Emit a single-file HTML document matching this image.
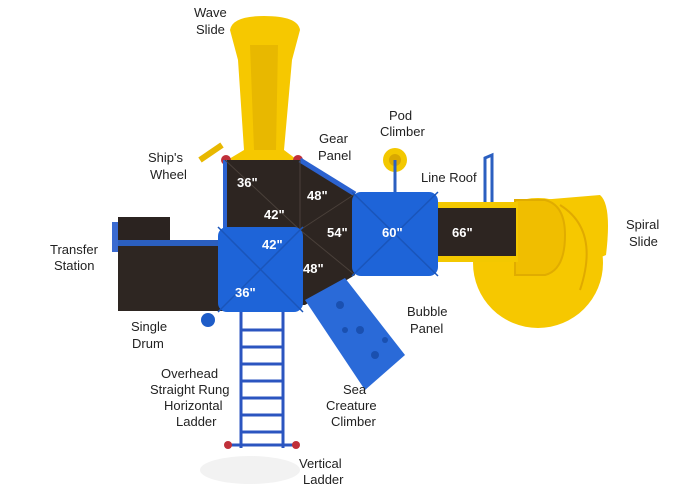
<!DOCTYPE html>
<html><head><style>
body{margin:0;background:#fff;}
svg{display:block}
text{font-family:"Liberation Sans",sans-serif;}
.l{font-size:13px;fill:#222}
.m{font-size:13px;fill:#fff;font-weight:bold}
</style></head><body>
<svg width="700" height="495" viewBox="0 0 700 495">
<ellipse cx="250" cy="470" rx="50" ry="14" fill="#f2f2f2"/>
<!-- wave slide -->
<path d="M230 30 Q232 16 264 16 Q298 16 300 30 L292 60 L284 150 L300 162 L224 162 L244 150 L238 60 Z" fill="#f6c800"/>
<path d="M250 45 L278 45 L276 150 L254 150 Z" fill="#e8b800"/>
<!-- ship wheel -->
<line x1="200" y1="160" x2="222" y2="145" stroke="#e8b800" stroke-width="6"/>
<circle cx="226" cy="160" r="5" fill="#c0303a"/><circle cx="298" cy="160" r="5" fill="#c0303a"/>
<!-- transfer station -->
<rect x="118" y="217" width="52" height="30" fill="#2b2320"/>
<rect x="118" y="245" width="108" height="66" fill="#2e2622"/>
<rect x="118" y="240" width="108" height="6" fill="#2b5fc0"/>
<rect x="112" y="222" width="6" height="30" fill="#3a6ad0"/>
<!-- central deck -->
<path d="M225 160 L300 160 L355 194 L355 275 L305 305 L225 305 Z" fill="#2d2521"/>
<path d="M300 160 L355 194" stroke="#2b62d0" stroke-width="5"/>
<path d="M225 160 L225 228" stroke="#2b62d0" stroke-width="4"/>
<path d="M225 160 L300 230 M300 160 L300 230 L355 194 M300 230 L355 275" stroke="#4a403a" stroke-width="1" fill="none"/>
<!-- pod climber -->
<circle cx="395" cy="160" r="12" fill="#f3c800"/><circle cx="395" cy="160" r="6" fill="#d9a800"/>
<line x1="395" y1="160" x2="395" y2="194" stroke="#2b5fc0" stroke-width="3"/>
<!-- line roof post -->
<path d="M485 205 L485 158 L492 155 L492 205" stroke="#2b5fc0" stroke-width="3" fill="none"/>
<!-- spiral slide -->
<path d="M540 200 L600 195 Q612 205 606 255 L590 262 Z" fill="#f6c800"/>
<circle cx="538" cy="263" r="65" fill="#f6c800"/>
<path d="M560 205 Q600 230 580 290" stroke="#e0aa00" stroke-width="2" fill="none"/>
<path d="M515 200 L545 200 Q565 205 565 235 Q565 270 545 275 L515 275 Z" fill="#f0be00" stroke="#e0ac00" stroke-width="2"/>
<!-- bridge -->
<rect x="436" y="202" width="82" height="60" fill="#f3c800"/>
<rect x="436" y="208" width="80" height="48" fill="#2d2521"/>
<!-- center roof -->
<rect x="352" y="192" width="86" height="84" rx="9" fill="#1e64d8"/>
<path d="M352 192 L438 276 M438 192 L352 276" stroke="#1a55ba" stroke-width="1.5"/>
<!-- sea creature climber -->
<path d="M305 300 L345 278 L405 355 L365 390 Z" fill="#2a6ad8"/>
<circle cx="340" cy="305" r="4" fill="#1a50b0"/><circle cx="360" cy="330" r="4" fill="#1a50b0"/><circle cx="375" cy="355" r="4" fill="#1a50b0"/><circle cx="345" cy="330" r="3" fill="#1a50b0"/><circle cx="385" cy="340" r="3" fill="#1a50b0"/>
<!-- ladder -->
<g stroke="#2b55c0" stroke-width="3">
<line x1="241" y1="312" x2="241" y2="448"/><line x1="283" y1="312" x2="283" y2="448"/>
<line x1="241" y1="330" x2="283" y2="330"/><line x1="241" y1="347" x2="283" y2="347"/><line x1="241" y1="364" x2="283" y2="364"/><line x1="241" y1="381" x2="283" y2="381"/><line x1="241" y1="398" x2="283" y2="398"/><line x1="241" y1="415" x2="283" y2="415"/><line x1="241" y1="432" x2="283" y2="432"/>
<line x1="228" y1="445" x2="296" y2="445"/>
</g>
<circle cx="228" cy="445" r="4" fill="#c0303a"/><circle cx="296" cy="445" r="4" fill="#c0303a"/>
<circle cx="208" cy="320" r="7" fill="#1e5cc8"/>
<!-- left roof -->
<rect x="218" y="227" width="85" height="85" rx="9" fill="#1e64d8"/>
<path d="M218 227 L303 312 M303 227 L218 312" stroke="#1a55ba" stroke-width="1.5"/>
<text class="m" x="237" y="187">36"</text>
<text class="m" x="264" y="219">42"</text>
<text class="m" x="307" y="200">48"</text>
<text class="m" x="327" y="237">54"</text>
<text class="m" x="262" y="249">42"</text>
<text class="m" x="303" y="273">48"</text>
<text class="m" x="235" y="297">36"</text>
<text class="m" x="382" y="237">60"</text>
<text class="m" x="452" y="237">66"</text>
<text class="l" x="194" y="17">Wave</text><text class="l" x="196" y="34">Slide</text>
<text class="l" x="319" y="143">Gear</text><text class="l" x="318" y="160">Panel</text>
<text class="l" x="389" y="120">Pod</text><text class="l" x="380" y="136">Climber</text>
<text class="l" x="148" y="162">Ship's</text><text class="l" x="150" y="179">Wheel</text>
<text class="l" x="421" y="182">Line Roof</text>
<text class="l" x="626" y="229">Spiral</text><text class="l" x="629" y="246">Slide</text>
<text class="l" x="50" y="254">Transfer</text><text class="l" x="54" y="270">Station</text>
<text class="l" x="131" y="331">Single</text><text class="l" x="132" y="348">Drum</text>
<text class="l" x="407" y="316">Bubble</text><text class="l" x="410" y="333">Panel</text>
<text class="l" x="161" y="378">Overhead</text><text class="l" x="150" y="394">Straight Rung</text><text class="l" x="164" y="410">Horizontal</text><text class="l" x="176" y="426">Ladder</text>
<text class="l" x="343" y="394">Sea</text><text class="l" x="326" y="410">Creature</text><text class="l" x="331" y="426">Climber</text>
<text class="l" x="299" y="468">Vertical</text><text class="l" x="303" y="484">Ladder</text>
</svg>
</body></html>
